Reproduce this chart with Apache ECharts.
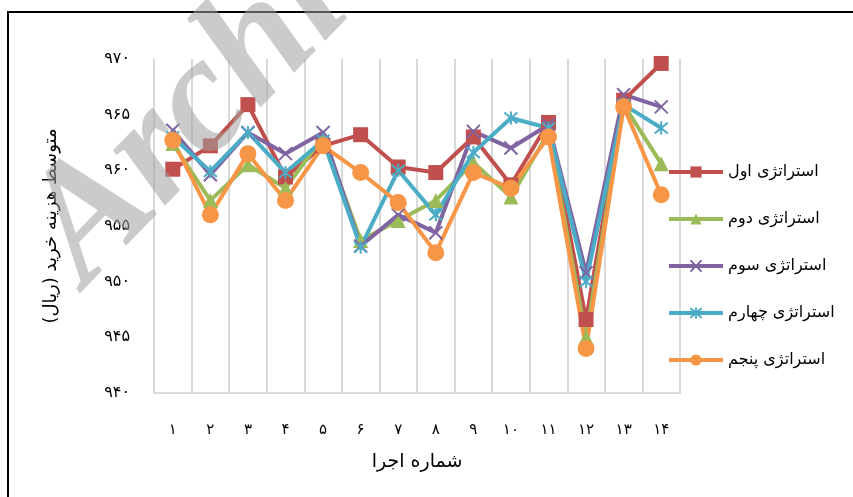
<!DOCTYPE html>
<html>
<head>
<meta charset="utf-8">
<script src="https://cdn.jsdelivr.net/npm/echarts@6/dist/echarts.min.js"></script>
<style>
  html, body { margin: 0; padding: 0; background: #fff; }
  #chart { width: 853px; height: 497px; }
</style>
</head>
<body>
<div id="chart"></div>
<script>
// داده ها
const runs = ['1', '2', '3', '4', '5', '6', '7', '8', '9', '10', '11', '12', '13', '14']
const yTicks = [940, 945, 950, 955, 960, 965, 970]
const names = ['استراتژی اول', 'استراتژی دوم', 'استراتژی سوم', 'استراتژی چهارم', 'استراتژی پنجم']
const s1 = [960.1, 962.2, 965.9, 959.4, 962.2, 963.2, 960.3, 959.8, 963.0, 958.7, 964.3, 946.6, 966.3, 969.6]
const s2 = [962.4, 957.3, 960.5, 958.4, 963.0, 953.7, 955.5, 957.3, 960.7, 957.6, 963.4, 945.0, 965.9, 960.6]
const s3 = [963.6, 959.6, 963.4, 961.5, 963.4, 953.2, 956.0, 954.4, 963.5, 962.0, 964.1, 950.8, 966.8, 965.7]
const s4 = [963.0, 959.9, 963.4, 959.8, 962.7, 953.1, 960.0, 956.0, 961.6, 964.7, 963.8, 950.0, 965.9, 963.8]
const s5 = [962.7, 956.0, 961.5, 957.3, 962.2, 959.8, 957.1, 952.6, 959.8, 958.4, 963.0, 944.0, 965.7, 957.8]

const colors = ['#C0504D', '#9BBB59', '#8064A2', '#4BACC6', '#F79646']
const fa = '۰۱۲۳۴۵۶۷۸۹'
const toFa = v => String(v).replace(/[0-9]/g, d => fa[d])
const font = 'DejaVu Sans'

const crossPath = 'path://M0,0 L10,10 M10,0 L0,10'
const starPath = 'path://M0,0 L10,10 M10,0 L0,10 M5,-1 L5,11'

let myChart = echarts.init(document.getElementById('chart'))

const mk = (i, data, symbol, size, stroke) => ({
  name: names[i],
  type: 'line',
  data: data,
  symbol: symbol,
  symbolSize: size,
  lineStyle: { width: 4, color: colors[i] },
  itemStyle: stroke
    ? { color: colors[i], borderColor: colors[i], borderWidth: 2 }
    : { color: colors[i] },
  emphasis: { disabled: true }
})

const option = {
  animation: false,
  color: colors,
  textStyle: { fontFamily: font },
  grid: { left: 154, right: 173, top: 59, bottom: 104 },
  legend: {
    orient: 'vertical',
    left: 662,
    top: 159,
    itemWidth: 54,
    itemHeight: 14,
    itemGap: 31,
    lineStyle: { width: 4 },
    textStyle: { fontSize: 16, color: '#000', fontFamily: font }
  },
  xAxis: {
    type: 'category',
    data: runs,
    boundaryGap: true,
    name: 'شماره اجرا',
    nameLocation: 'middle',
    nameGap: 60,
    nameTextStyle: { fontSize: 19, color: '#000' },
    axisLine: { lineStyle: { color: '#D9D9D9', width: 2 } },
    axisTick: { show: false },
    axisLabel: { margin: 30, fontSize: 15, color: '#000', formatter: toFa },
    splitLine: { show: true, lineStyle: { color: '#D9D9D9', width: 2 } }
  },
  yAxis: {
    type: 'value',
    min: yTicks[0],
    max: yTicks[yTicks.length - 1],
    interval: 5,
    name: 'متوسط هزینه خرید (ریال)',
    nameLocation: 'middle',
    nameGap: 94,
    nameTextStyle: { fontSize: 18, color: '#000' },
    axisLine: { show: false },
    axisTick: { show: false },
    splitLine: { show: false },
    axisLabel: { margin: 24, fontSize: 16, color: '#000', formatter: toFa }
  },
  graphic: [
    {
      type: 'rect',
      shape: { x: 8, y: 12, width: 900, height: 600 },
      style: { fill: 'none', stroke: '#000', lineWidth: 2 },
      silent: true
    },
    {
      type: 'text',
      x: -4, y: 200,
      rotation: 0.8,
      z: 100,
      style: {
        text: 'Archive',
        fontSize: 165,
        fontStyle: 'italic',
        fontWeight: 'bold',
        fontFamily: 'Liberation Serif',
        fill: 'rgba(160,160,160,0.55)'
      },
      silent: true
    }
  ],
  series: [
    mk(0, s1, 'rect', 15, false),
    mk(1, s2, 'triangle', 15, false),
    mk(2, s3, crossPath, 13, true),
    mk(3, s4, starPath, 13, true),
    mk(4, s5, 'circle', 17, false)
  ]
}

myChart.setOption(option)
</script>
</body>
</html>
